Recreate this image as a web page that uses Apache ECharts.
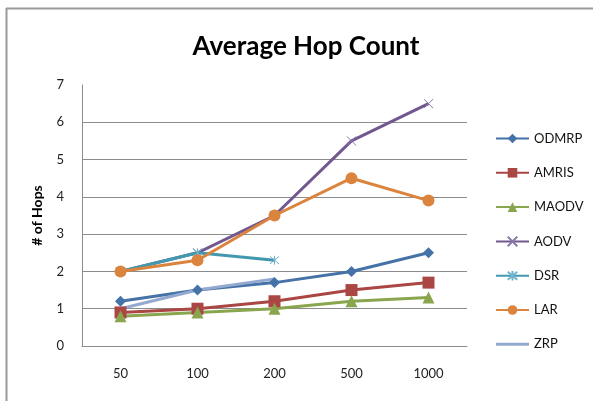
<!DOCTYPE html>
<html>
<head>
<meta charset="utf-8">
<script src="https://cdn.jsdelivr.net/npm/echarts@6/dist/echarts.min.js"></script>
<style>
  html, body { margin: 0; padding: 0; background: #fff; }
  #chart { width: 593px; height: 401px; }
</style>
</head>
<body>
<div id="chart"></div>
<script>
// Number of nodes on the x axis
const categories = ['50', '100', '200', '500', '1000'];
const yTicks = [0, 1, 2, 3, 4, 5, 6, 7];

// Average hop count per protocol ('-' = not measured)
const odmrp = [1.2, 1.5, 1.7, 2.0, 2.5];
const amris = [0.9, 1.0, 1.2, 1.5, 1.7];
const maodv = [0.8, 0.9, 1.0, 1.2, 1.3];
const aodv  = [2.0, 2.5, 3.5, 5.5, 6.5];
const dsr   = [2.0, 2.5, 2.3, '-', '-'];
const lar   = [2.0, 2.3, 3.5, 4.5, 3.9];
const zrp   = [1.0, 1.5, 1.8, '-', '-'];

const crossPath = 'path://M0,0L10,10M10,0L0,10';
const starPath = 'path://M0,0L10,10M10,0L0,10M5,-1L5,11';
// plain bar used as the legend swatch of the marker-less series
const barPath = 'path://M0,0L33,0L33,3L0,3Z';

function lineSeries(name, data, color, symbol, size, extra) {
  return Object.assign({
    name: name,
    type: 'line',
    data: data,
    symbol: symbol,
    symbolSize: size,
    showSymbol: symbol !== 'none',
    lineStyle: { color: color, width: 3 },
    itemStyle: { color: color },
    emphasis: { disabled: true },
    animation: false,
    z: 2
  }, extra || {});
}

const chart = echarts.init(document.getElementById('chart'), null, { renderer: 'canvas' });

chart.setOption({
  backgroundColor: '#ffffff',
  animation: false,
  title: {
    text: 'Average Hop Count',
    left: 301,
    top: 29,
    textAlign: 'center',
    textStyle: { fontFamily: 'Lato', fontWeight: 'bold', fontSize: 26, color: '#000' }
  },
  grid: { left: 82, right: 126, top: 85, bottom: 55 },
  legend: {
    orient: 'vertical',
    left: 490,
    top: 127,
    itemWidth: 33,
    itemHeight: 12,
    itemGap: 21.3,
    textStyle: { fontFamily: 'Lato', fontSize: 13, color: '#111' },
    data: ['ODMRP', 'AMRIS', 'MAODV', 'AODV', 'DSR', 'LAR', { name: 'ZRP', icon: barPath }]
  },
  xAxis: {
    type: 'category',
    data: categories,
    boundaryGap: true,
    axisLine: { lineStyle: { color: '#8c8c8c', width: 1 } },
    axisTick: { show: false },
    axisLabel: { margin: 21, fontFamily: 'Lato', fontSize: 13, color: '#222' }
  },
  yAxis: {
    type: 'value',
    min: yTicks[0],
    max: yTicks[yTicks.length - 1],
    interval: 1,
    name: '# of Hops',
    nameLocation: 'middle',
    nameGap: 38,
    nameRotate: 90,
    nameTextStyle: { fontFamily: 'Lato', fontWeight: 'bold', fontSize: 14, color: '#000' },
    axisLine: { show: true, lineStyle: { color: '#8c8c8c', width: 1 } },
    axisTick: { show: false },
    axisLabel: { margin: 18, fontFamily: 'Lato', fontSize: 13, color: '#222' },
    splitLine: {
      show: true,
      lineStyle: {
        color: ['#8c8c8c', '#8c8c8c', '#8c8c8c', '#8c8c8c', '#8c8c8c', '#8c8c8c', '#8c8c8c', 'rgba(0,0,0,0)'],
        width: 1
      }
    }
  },
  graphic: [
    { type: 'line', shape: { x1: 6, y1: 8.5, x2: 593, y2: 8.5 }, style: { stroke: '#9a9a9a', lineWidth: 2 } },
    { type: 'line', shape: { x1: 6.5, y1: 8, x2: 6.5, y2: 401 }, style: { stroke: '#9a9a9a', lineWidth: 2 } }
  ],
  series: [
    lineSeries('ODMRP', odmrp, '#4572A7', 'diamond', 11),
    lineSeries('AMRIS', amris, '#AA4643', 'rect', 12),
    lineSeries('MAODV', maodv, '#89A54E', 'triangle', 12),
    lineSeries('AODV', aodv, '#71588F', crossPath, 9, {
      itemStyle: { color: 'rgba(0,0,0,0)', borderColor: '#8877aa', borderWidth: 1 }
    }),
    lineSeries('DSR', dsr, '#4198AF', starPath, 9, {
      itemStyle: { color: 'rgba(0,0,0,0)', borderColor: '#6fb5cc', borderWidth: 1 }
    }),
    lineSeries('LAR', lar, '#DB843D', 'circle', 12),
    lineSeries('ZRP', zrp, '#93A9CF', 'none', 0)
  ]
});
</script>
</body>
</html>
